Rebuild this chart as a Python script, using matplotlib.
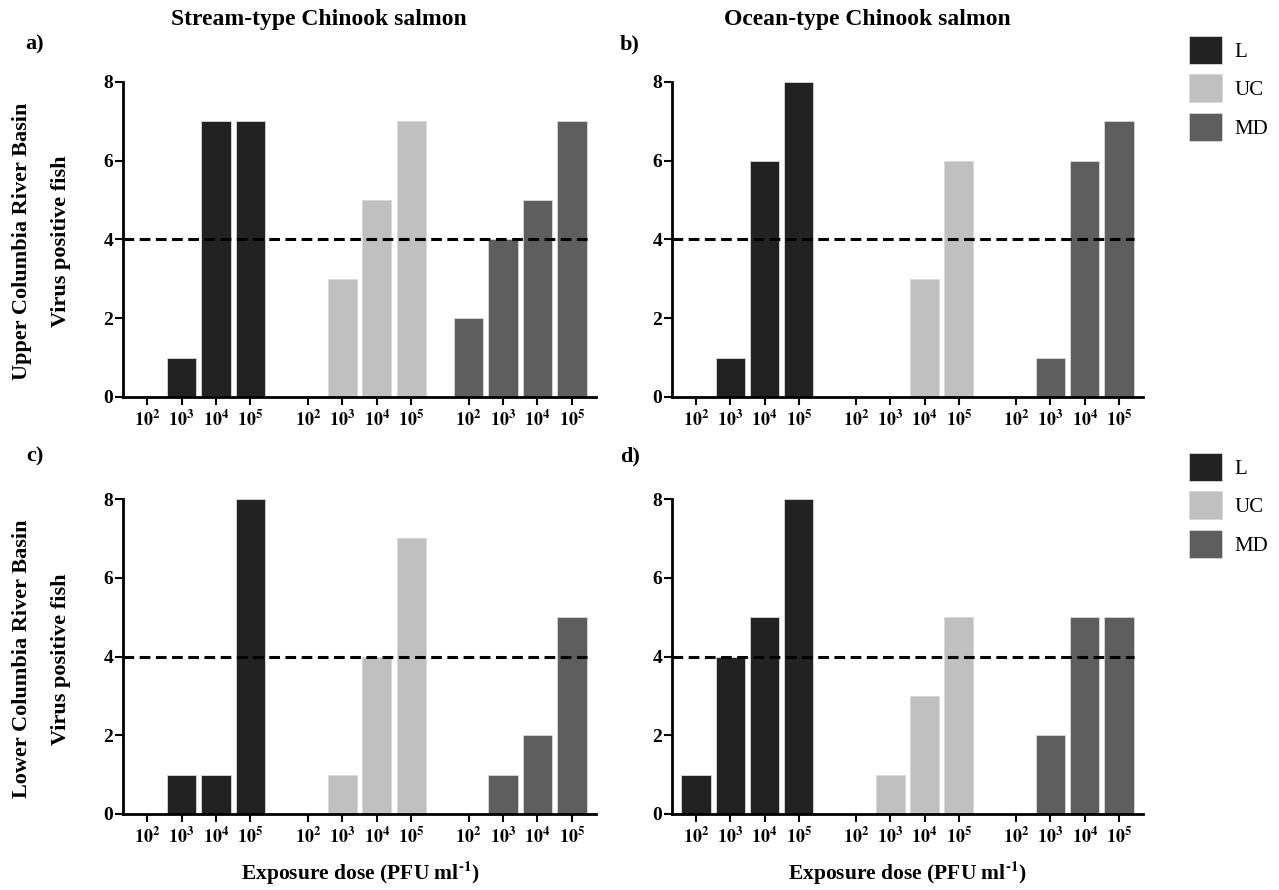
import numpy as np
import matplotlib
matplotlib.use('Agg')
import matplotlib.pyplot as plt
from matplotlib.patches import Patch

plt.rcParams['font.family'] = 'Liberation Serif'
plt.rcParams['font.weight'] = 'bold'
plt.rcParams['mathtext.fontset'] = 'stix'

strains = ['L', 'UC', 'MD']
doses = [2, 3, 4, 5]
colors = ['#222222', '#c0c0c0', '#5e5e5e']

# positive fish out of 8, per strain and dose (10^2 .. 10^5)
stream_upper = {'L': [0, 1, 7, 7], 'UC': [0, 3, 5, 7], 'MD': [2, 4, 5, 7]}
ocean_upper = {'L': [0, 1, 6, 8], 'UC': [0, 0, 3, 6], 'MD': [0, 1, 6, 7]}
stream_lower = {'L': [0, 1, 1, 8], 'UC': [0, 1, 4, 7], 'MD': [0, 1, 2, 5]}
ocean_lower = {'L': [1, 4, 5, 8], 'UC': [0, 1, 3, 5], 'MD': [0, 2, 5, 5]}

threshold = 4
group_step = 4.67
bar_w = 0.85

W, H = 1279, 890
fig = plt.figure(figsize=(W / 100, H / 100), dpi=100)


def add_ax(x0, y0, x1, y1):
    # pixel box -> figure fraction
    return fig.add_axes([x0 / W, 1 - y1 / H, (x1 - x0) / W, (y1 - y0) / H])


def draw_panel(ax, data):
    pos_all, labels = [], []
    for g, (s, c) in enumerate(zip(strains, colors)):
        pos = g * group_step + np.arange(len(doses))
        ax.bar(pos, data[s], width=bar_w, color=c, edgecolor='#d8d8d8',
               linewidth=0.6, zorder=2)
        pos_all.extend(pos)
        labels.extend([r'$\mathbf{10^{%d}}$' % d for d in doses])
    xmin, xmax = -0.7, pos_all[-1] + 0.7
    ax.hlines(threshold, xmin, pos_all[-1] + bar_w / 2, colors='black',
              linestyles=(0, (3.5, 1.8)), linewidth=2.2, zorder=3)
    ax.set_xlim(xmin, xmax)
    ax.set_ylim(0, 8)
    ax.set_xticks(pos_all)
    ax.set_xticklabels(labels, fontsize=13)
    ax.set_yticks([0, 2, 4, 6, 8])
    ax.tick_params(axis='y', labelsize=14, length=6, width=1.5, pad=1)
    ax.tick_params(axis='x', length=6, width=1.5, pad=3)
    for sp in ['top', 'right']:
        ax.spines[sp].set_visible(False)
    for sp in ['left', 'bottom']:
        ax.spines[sp].set_linewidth(2.0)


ax_a = add_ax(123, 82, 596, 397)
ax_b = add_ax(672, 82, 1143, 397)
ax_c = add_ax(123, 499, 596, 814)
ax_d = add_ax(672, 499, 1143, 814)

for ax, d in [(ax_a, stream_upper), (ax_b, ocean_upper),
              (ax_c, stream_lower), (ax_d, ocean_lower)]:
    draw_panel(ax, d)

fig.text(319 / W, 1 - 20 / H, 'Stream-type Chinook salmon', ha='center',
         va='center', fontsize=17)
fig.text(867 / W, 1 - 20 / H, 'Ocean-type Chinook salmon', ha='center',
         va='center', fontsize=17)

for lbl, x, y in [('a)', 35, 44), ('b)', 630, 44), ('c)', 35, 456), ('d)', 630, 456)]:
    fig.text(x / W, 1 - y / H, lbl, ha='center', va='center', fontsize=16)

for basin, yc in [('Upper Columbia River Basin', 241), ('Lower Columbia River Basin', 659)]:
    fig.text(22 / W, 1 - yc / H, basin, rotation=90, ha='center',
             va='center', fontsize=16)
    fig.text(61 / W, 1 - yc / H, 'Virus positive fish', rotation=90,
             ha='center', va='center', fontsize=16)

for xc in [360, 907]:
    fig.text(xc / W, 1 - 873 / H, r'Exposure dose (PFU ml$^{\text{-}\mathbf{1}}$)',
             ha='center', va='center', fontsize=15.5)

handles = [Patch(facecolor=c, edgecolor='#d8d8d8', linewidth=0.6) for c in colors]
for yt in [17, 434]:
    fig.legend(handles, strains, loc='upper left',
               bbox_to_anchor=(1170 / W, 1 - yt / H), frameon=False,
               handlelength=1.6, handleheight=1.7, labelspacing=0.5,
               handletextpad=0.6, prop={'weight': 'normal', 'size': 15})

fig.savefig('out.png', dpi=100)
